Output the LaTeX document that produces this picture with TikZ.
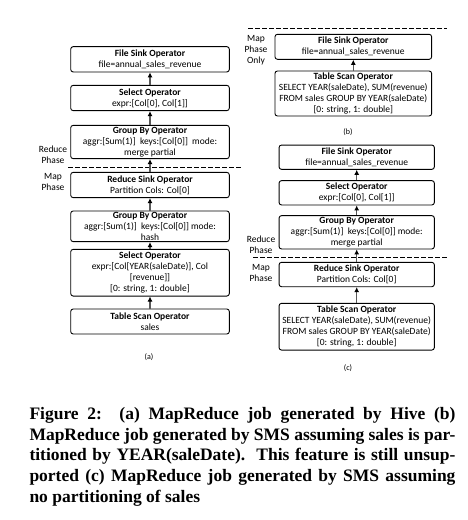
\documentclass[tikz,border=0pt]{standalone}
\usepackage{fontspec}
\setmainfont{Carlito}
\newfontfamily\capfont{Liberation Serif}
\usetikzlibrary{arrows.meta}
\begin{document}
\begin{tikzpicture}[x=1pt,y=-1pt,
 op/.style={draw=black, line width=0.9pt, rounded corners=2.5pt, fill=white, align=center, inner sep=0pt, font=\fontsize{9.5}{11}\selectfont},
 lbl/.style={align=center, inner sep=0pt, font=\fontsize{9.5}{11}\selectfont},
 sub/.style={inner sep=0pt, font=\fontsize{8}{9}\selectfont},
 flow/.style={draw=black!65, line width=1.2pt, -{Latex[length=5pt,width=5pt,black]}},
 phase/.style={dash pattern=on 4.5pt off 2.5pt, line width=0.9pt},
 wa/.style={minimum width=158.6pt},
 wb/.style={minimum width=156.7pt},
 wc/.style={minimum width=155.3pt},
]
\useasboundingbox (0,0) rectangle (467,520);
% (a)
\node[op, wa, minimum height=25.3pt] (fsA) at (150,59.3) {\textbf{File Sink Operator}\\file=annual\_sales\_revenue};
\node[op, wa, minimum height=25.3pt] (selA) at (150,98) {\textbf{Select Operator}\\expr:[Col[0], Col[1]]};
\node[op, wa, minimum height=33.3pt] (gbA) at (150,142) {\textbf{Group By Operator}\\aggr:[Sum(1)]\ \ keys:[Col[0]]\ \ mode:\\merge partial};
\node[op, wa, minimum height=25.3pt] (rsA) at (150,185) {\textbf{Reduce Sink Operator}\\Partition Cols: Col[0]};
\node[op, wa, minimum height=30.7pt] (gbhA) at (150,226.3) {\textbf{Group By Operator}\\aggr:[Sum(1)]\ \ keys:[Col[0]] mode:\\hash};
\node[op, wa, minimum height=46.7pt] (selA2) at (150,272.7) {\textbf{Select Operator}\\expr:[Col[YEAR(saleDate)], Col\\{}[revenue]]\\{}[0: string, 1: double]};
\node[op, wa, minimum height=25pt] (tsA) at (150,321.5) {\textbf{Table Scan Operator}\\sales};
\draw[phase] (68,167.7) -- (243,167.7);
\node[lbl] (rpA) at (53,154.5) {Reduce\\Phase};
\node[lbl] (mpA) at (53,182.2) {Map\\Phase};
\node[sub] (capA) at (149,356.7) {(a)};
\draw[flow] (tsA.north) -- (selA2.south);
\draw[flow] (selA2.north) -- (gbhA.south);
\draw[flow] (gbhA.north) -- (rsA.south);
\draw[flow] (rsA.north) -- (gbA.south);
\draw[flow] (gbA.north) -- (selA.south);
\draw[flow] (selA.north) -- (fsA.south);
% (b)
\draw[phase] (248,28.3) -- (447,28.3);
\node[op, wb, minimum height=25pt] (fsB) at (353.3,46.8) {\textbf{File Sink Operator}\\file=annual\_sales\_revenue};
\node[op, wb, minimum height=45pt] (tsB) at (353.3,93.5) {\textbf{Table Scan Operator}\\SELECT YEAR(saleDate), SUM(revenue)\\FROM sales GROUP BY YEAR(saleDate)\\{}[0: string, 1: double]};
\node[lbl] (mpB) at (256,49.8) {Map\\Phase\\Only};
\node[sub] (capB) at (348,131.7) {(b)};
\draw[flow] (tsB.north) -- (fsB.south);
% (c)
\node[op, wc, minimum height=24.3pt] (fsC) at (356.7,157.2) {\textbf{File Sink Operator}\\file=annual\_sales\_revenue};
\node[op, wc, minimum height=24.3pt] (selC) at (356.7,192.8) {\textbf{Select Operator}\\expr:[Col[0], Col[1]]};
\node[op, wc, minimum height=33.3pt] (gbC) at (356.7,232.3) {\textbf{Group By Operator}\\aggr:[Sum(1)]\ \ keys:[Col[0]] mode:\\merge partial};
\node[op, wc, minimum height=24.4pt] (rsC) at (356.7,274.5) {\textbf{Reduce Sink Operator}\\Partition Cols: Col[0]};
\node[op, wc, minimum height=46.7pt] (tsC) at (356.7,326.7) {\textbf{Table Scan Operator}\\SELECT YEAR(saleDate), SUM(revenue)\\FROM sales GROUP BY YEAR(saleDate)\\{}[0: string, 1: double]};
\draw[phase] (253,257.7) -- (449,257.7);
\node[lbl] (rpC) at (261,244.7) {Reduce\\Phase};
\node[lbl] (mpC) at (261,272.5) {Map\\Phase};
\node[sub] (capC) at (348,368.3) {(c)};
\draw[flow] (tsC.north) -- (rsC.south);
\draw[flow] (rsC.north) -- (gbC.south);
\draw[flow] (gbC.north) -- (selC.south);
\draw[flow] (selC.north) -- (fsC.south);
% caption
\node[anchor=north west, inner sep=0pt, text width=426pt, align=justify, font=\capfont\bfseries\fontsize{17.5}{20.7}\selectfont] (cap) at (29.3,407) {Figure 2:\ \ (a) MapReduce job generated by Hive (b)\linebreak MapReduce job generated by SMS assuming sales is par-\linebreak titioned by YEAR(saleDate).\ \ This feature is still unsup-\linebreak ported (c) MapReduce job generated by SMS assuming\linebreak no partitioning of sales};
\end{tikzpicture}
\end{document}
